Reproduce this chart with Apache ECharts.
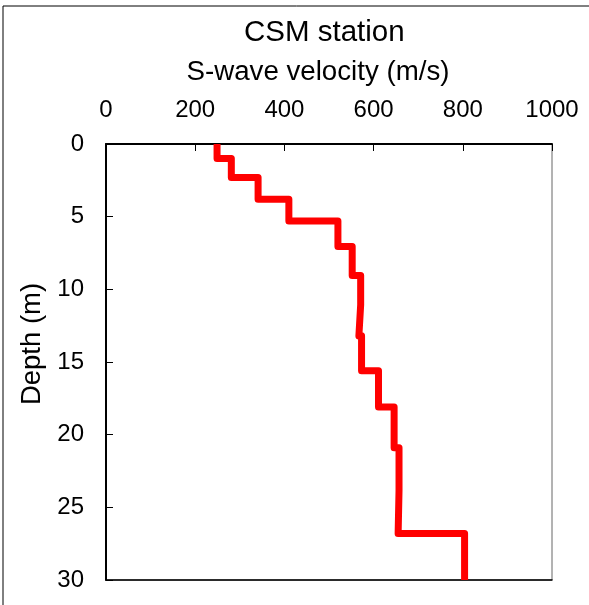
<!DOCTYPE html>
<html>
<head>
<meta charset="utf-8">
<script src="https://cdn.jsdelivr.net/npm/echarts@6/dist/echarts.min.js"></script>
<style>
  html, body { margin: 0; padding: 0; background: #fff; }
  #chart { width: 589px; height: 605px; }
</style>
</head>
<body>
<div id="chart"></div>
<script>
// layer velocities (m/s) and depth of each layer's bottom (m)
var layerVelocity = [249, 281, 341, 410, 520, 552, 571, 567, 573, 611, 646, 657, 655, 804];
var layerBottom = [1.0, 2.3, 3.8, 5.3, 7.05, 9.05, 11.07, 13.2, 15.6, 18.1, 20.9, 23.85, 26.8, 30];
var velocityTicks = [0, 200, 400, 600, 800, 1000];
var depthTicks = [0, 5, 10, 15, 20, 25, 30];

// step profile
var profile = [];
var layerTop = 0;
for (var i = 0; i < layerVelocity.length; i++) {
    profile.push([layerVelocity[i], layerTop]);
    profile.push([layerVelocity[i], layerBottom[i]]);
    layerTop = layerBottom[i];
}

var font = '"Liberation Sans", Arial, sans-serif';
var chart = echarts.init(document.getElementById('chart'));
chart.setOption({
    animation: false,
    title: {
        text: 'CSM station',
        left: 239,
        top: 13,
        textStyle: { fontFamily: font, fontSize: 29.5, fontWeight: 'normal', color: '#000' }
    },
    graphic: [{
        type: 'rect',
        shape: { x: 3, y: 6, width: 700, height: 700 },
        style: { fill: 'none', stroke: '#000', lineWidth: 1 },
        silent: true
    }],
    grid: {
        left: 106, top: 144, right: 37, bottom: 25,
        show: true, borderColor: '#666', borderWidth: 1
    },
    xAxis: [{
        type: 'value',
        position: 'top',
        min: velocityTicks[0],
        max: velocityTicks[velocityTicks.length - 1],
        interval: 200,
        name: 'S-wave velocity (m/s)',
        nameLocation: 'middle',
        nameGap: 58,
        nameTextStyle: { fontFamily: font, fontSize: 27.7, color: '#000', padding: [0, 22, 0, 0] },
        axisLine: { lineStyle: { color: '#000', width: 2 } },
        axisTick: { inside: true, length: 7, lineStyle: { color: '#000', width: 1 } },
        axisLabel: {
            fontFamily: font, fontSize: 24, color: '#000', margin: 22,
            formatter: function (v) { return String(v); }
        },
        splitLine: { show: false }
    }, {
        type: 'value',
        position: 'bottom',
        min: 0, max: 1000,
        axisLine: { show: true, lineStyle: { color: '#000', width: 1.5 } },
        axisTick: { show: false },
        axisLabel: { show: false },
        splitLine: { show: false }
    }],
    yAxis: {
        type: 'value',
        inverse: true,
        min: depthTicks[0],
        max: depthTicks[depthTicks.length - 1],
        interval: 5,
        name: 'Depth (m)',
        nameLocation: 'middle',
        nameGap: 53,
        nameTextStyle: { fontFamily: font, fontSize: 27.5, color: '#000', padding: [0, 0, 0, 36] },
        axisLine: { lineStyle: { color: '#000', width: 2 } },
        axisTick: { inside: true, length: 7, lineStyle: { color: '#000', width: 1 } },
        axisLabel: { fontFamily: font, fontSize: 24, color: '#000', margin: 22 },
        splitLine: { show: false }
    },
    series: [{
        type: 'line',
        data: profile,
        showSymbol: false,
        lineStyle: { color: '#ff0000', width: 7, join: 'round' }
    }]
});
</script>
</body>
</html>
